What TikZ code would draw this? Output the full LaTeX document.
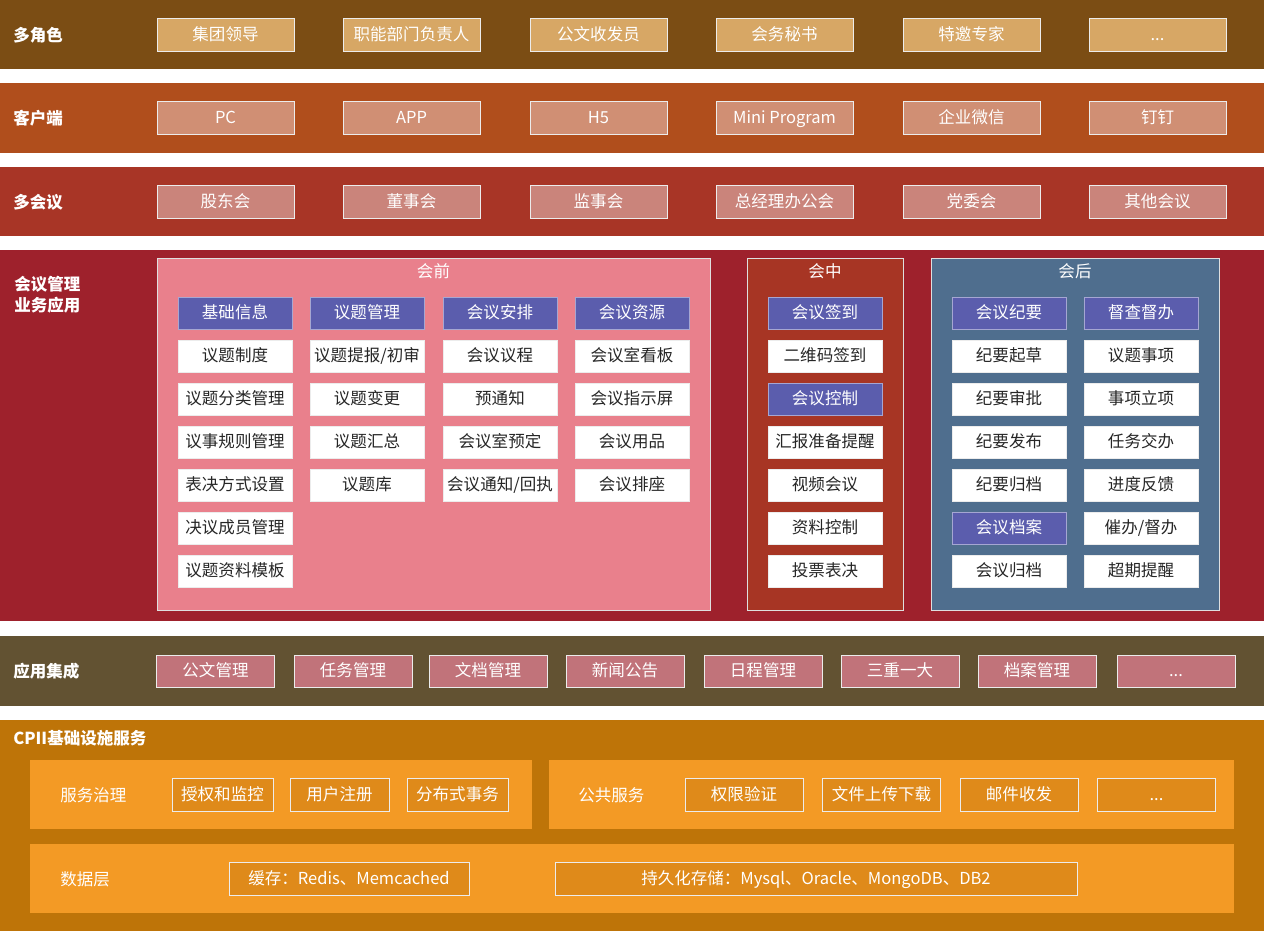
\documentclass[tikz,border=0pt]{standalone}
\usepackage{fontspec}
\setmainfont{Noto Sans CJK SC}

\definecolor{roleBand}{HTML}{7B4D14}
\definecolor{roleFill}{HTML}{D7A765}
\definecolor{clientBand}{HTML}{B04E1C}
\definecolor{clientFill}{HTML}{D08F74}
\definecolor{typeBand}{HTML}{A83526}
\definecolor{typeFill}{HTML}{CA847B}
\definecolor{appBand}{HTML}{9E212C}
\definecolor{preFill}{HTML}{E9808C}
\definecolor{inFill}{HTML}{A73524}
\definecolor{postFill}{HTML}{4F6E8E}
\definecolor{headFill}{HTML}{5B5DAD}
\definecolor{integBand}{HTML}{625232}
\definecolor{integFill}{HTML}{C1737A}
\definecolor{baseBand}{HTML}{BE7408}
\definecolor{basePanel}{HTML}{F39A25}
\definecolor{baseFill}{HTML}{DF8A1A}

\begin{document}
\begin{tikzpicture}[x=0.02cm, y=-0.02cm,
	font=\fontsize{9.4}{11}\selectfont,
	bandlabel/.style={anchor=west, text=white, font=\fontsize{9.4}{11}\selectfont\bfseries, inner sep=0pt},
	box/.style={draw=white!85!gray, line width=0.5pt, text=white, inner sep=0pt, minimum height=0.66cm, text height=8pt, text depth=1.2pt},
	role/.style={box, fill=roleFill, minimum width=2.74cm},
	client/.style={box, fill=clientFill, minimum width=2.74cm},
	mtype/.style={box, fill=typeFill, minimum width=2.74cm},
	panel/.style={draw=white!75!gray, line width=0.5pt, inner sep=0pt},
	ptitle/.style={text=white, inner sep=0pt},
	cell/.style={fill=white, draw=white!85!gray, line width=0.5pt, text=black!85, inner sep=0pt, minimum width=2.28cm, minimum height=0.64cm, text height=8pt, text depth=1.2pt},
	head/.style={cell, fill=headFill, draw=headFill!55!white, text=white},
	integ/.style={box, fill=integFill, minimum width=2.36cm, minimum height=0.64cm},
	svc/.style={box, fill=baseFill, minimum height=0.66cm},
	sublabel/.style={anchor=west, text=white, inner sep=0pt}]
	\useasboundingbox (0,0) rectangle (1264,931);
	\fill[white] (0,0) rectangle (1264,931);

	% bands
	\fill[roleBand] (0,0) rectangle (1264,69);
	\fill[clientBand] (0,83) rectangle (1264,153);
	\fill[typeBand] (0,167) rectangle (1264,236);
	\fill[appBand] (0,250) rectangle (1264,621);
	\fill[integBand] (0,636) rectangle (1264,706);
	\fill[baseBand] (0,720) rectangle (1264,931);

	% roles
	\node [bandlabel] (roleL) at (13, 35) {多角色};
	\node [role] (role1) at (225.5, 34.5) {集团领导};
	\node [role] (role2) at (411.5, 34.5) {职能部门负责人};
	\node [role] (role3) at (598.5, 34.5) {公文收发员};
	\node [role] (role4) at (784.5, 34.5) {会务秘书};
	\node [role] (role5) at (971.5, 34.5) {特邀专家};
	\node [role] (role6) at (1157.5, 34.5) {...};

	% clients
	\node [bandlabel] (clientL) at (13, 118) {客户端};
	\node [client] (client1) at (225.5, 117.5) {PC};
	\node [client] (client2) at (411.5, 117.5) {APP};
	\node [client] (client3) at (598.5, 117.5) {H5};
	\node [client] (client4) at (784.5, 117.5) {Mini Program};
	\node [client] (client5) at (971.5, 117.5) {企业微信};
	\node [client] (client6) at (1157.5, 117.5) {钉钉};

	% meeting types
	\node [bandlabel] (typeL) at (13, 202) {多会议};
	\node [mtype] (type1) at (225.5, 201.5) {股东会};
	\node [mtype] (type2) at (411.5, 201.5) {董事会};
	\node [mtype] (type3) at (598.5, 201.5) {监事会};
	\node [mtype] (type4) at (784.5, 201.5) {总经理办公会};
	\node [mtype] (type5) at (971.5, 201.5) {党委会};
	\node [mtype] (type6) at (1157.5, 201.5) {其他会议};

	% meeting management
	\node [bandlabel, align=left] (appL) at (14, 295) {会议管理\\[1pt]业务应用};

	\node [panel, fill=preFill, minimum width=11.06cm, minimum height=7.04cm] (pre) at (433.5, 434) {};
	\node [panel, fill=inFill, minimum width=3.12cm, minimum height=7.04cm] (mid) at (825, 434) {};
	\node [panel, fill=postFill, minimum width=5.76cm, minimum height=7.04cm] (post) at (1075, 434) {};
	\node [ptitle] (preT) at (433.5, 271) {会前};
	\node [ptitle] (midT) at (825, 271) {会中};
	\node [ptitle] (postT) at (1075, 271) {会后};

	\node [head] (a0) at (235, 313) {基础信息};
	\node [cell] (a1) at (235, 356) {议题制度};
	\node [cell] (a2) at (235, 399) {议题分类管理};
	\node [cell] (a3) at (235, 442) {议事规则管理};
	\node [cell] (a4) at (235, 485) {表决方式设置};
	\node [cell] (a5) at (235, 528) {决议成员管理};
	\node [cell] (a6) at (235, 571) {议题资料模板};

	\node [head] (b0) at (367, 313) {议题管理};
	\node [cell] (b1) at (367, 356) {议题提报/初审};
	\node [cell] (b2) at (367, 399) {议题变更};
	\node [cell] (b3) at (367, 442) {议题汇总};
	\node [cell] (b4) at (367, 485) {议题库};

	\node [head] (c0) at (500, 313) {会议安排};
	\node [cell] (c1) at (500, 356) {会议议程};
	\node [cell] (c2) at (500, 399) {预通知};
	\node [cell] (c3) at (500, 442) {会议室预定};
	\node [cell] (c4) at (500, 485) {会议通知/回执};

	\node [head] (d0) at (632, 313) {会议资源};
	\node [cell] (d1) at (632, 356) {会议室看板};
	\node [cell] (d2) at (632, 399) {会议指示屏};
	\node [cell] (d3) at (632, 442) {会议用品};
	\node [cell] (d4) at (632, 485) {会议排座};

	\node [head] (e0) at (825, 313) {会议签到};
	\node [cell] (e1) at (825, 356) {二维码签到};
	\node [head] (e2) at (825, 399) {会议控制};
	\node [cell] (e3) at (825, 442) {汇报准备提醒};
	\node [cell] (e4) at (825, 485) {视频会议};
	\node [cell] (e5) at (825, 528) {资料控制};
	\node [cell] (e6) at (825, 571) {投票表决};

	\node [head] (f0) at (1009, 313) {会议纪要};
	\node [cell] (f1) at (1009, 356) {纪要起草};
	\node [cell] (f2) at (1009, 399) {纪要审批};
	\node [cell] (f3) at (1009, 442) {纪要发布};
	\node [cell] (f4) at (1009, 485) {纪要归档};
	\node [head] (f5) at (1009, 528) {会议档案};
	\node [cell] (f6) at (1009, 571) {会议归档};

	\node [head] (g0) at (1141, 313) {督查督办};
	\node [cell] (g1) at (1141, 356) {议题事项};
	\node [cell] (g2) at (1141, 399) {事项立项};
	\node [cell] (g3) at (1141, 442) {任务交办};
	\node [cell] (g4) at (1141, 485) {进度反馈};
	\node [cell] (g5) at (1141, 528) {催办/督办};
	\node [cell] (g6) at (1141, 571) {超期提醒};

	% integration
	\node [bandlabel] (integL) at (13, 671) {应用集成};
	\node [integ] (integ1) at (215.5, 671) {公文管理};
	\node [integ] (integ2) at (353, 671) {任务管理};
	\node [integ] (integ3) at (488, 671) {文档管理};
	\node [integ] (integ4) at (625, 671) {新闻公告};
	\node [integ] (integ5) at (763, 671) {日程管理};
	\node [integ] (integ6) at (900, 671) {三重一大};
	\node [integ] (integ7) at (1037, 671) {档案管理};
	\node [integ] (integ8) at (1176, 671) {...};

	% infrastructure
	\node [bandlabel] (baseL) at (13, 738) {CPII基础设施服务};
	\node [fill=basePanel, inner sep=0pt, minimum width=10.04cm, minimum height=1.38cm] (govern) at (281, 794.5) {};
	\node [fill=basePanel, inner sep=0pt, minimum width=13.7cm, minimum height=1.38cm] (public) at (891.5, 794.5) {};
	\node [fill=basePanel, inner sep=0pt, minimum width=24.08cm, minimum height=1.38cm] (data) at (632, 878.5) {};

	\node [sublabel] (governL) at (60, 795) {服务治理};
	\node [svc, minimum width=2.02cm] (gov1) at (222.5, 794.5) {授权和监控};
	\node [svc, minimum width=1.98cm] (gov2) at (339.5, 794.5) {用户注册};
	\node [svc, minimum width=2.02cm] (gov3) at (457.5, 794.5) {分布式事务};

	\node [sublabel] (publicL) at (578, 795) {公共服务};
	\node [svc, minimum width=2.36cm] (pub1) at (744, 794.5) {权限验证};
	\node [svc, minimum width=2.36cm] (pub2) at (881.5, 794.5) {文件上传下载};
	\node [svc, minimum width=2.36cm] (pub3) at (1019, 794.5) {邮件收发};
	\node [svc, minimum width=2.36cm] (pub4) at (1156.5, 794.5) {...};

	\node [sublabel] (dataL) at (60, 879) {数据层};
	\node [svc, minimum width=4.8cm] (cache) at (349, 878.5) {缓存：Redis、Memcached};
	\node [svc, minimum width=10.44cm] (store) at (816, 878.5) {持久化存储：Mysql、Oracle、MongoDB、DB2};
\end{tikzpicture}
\end{document}
